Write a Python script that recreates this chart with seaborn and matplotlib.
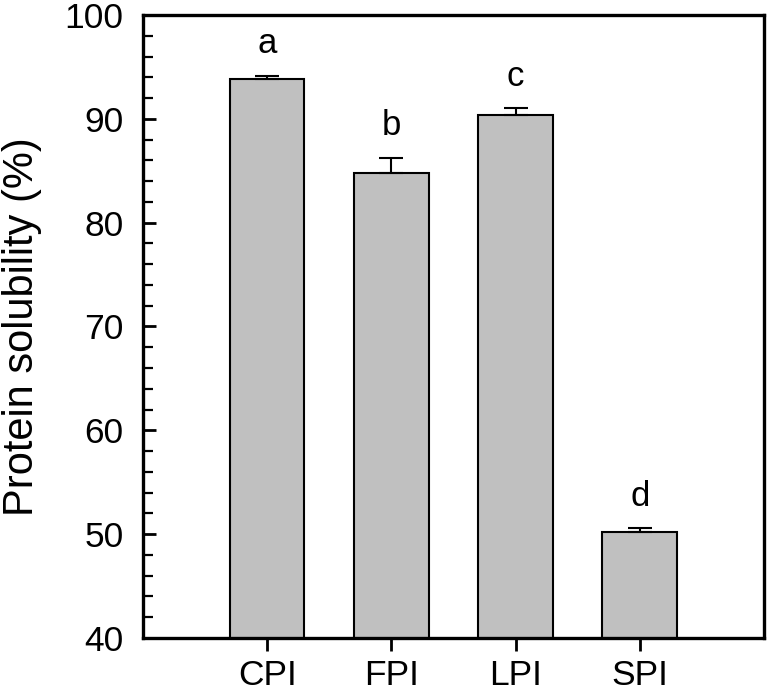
import matplotlib
matplotlib.use("Agg")
import matplotlib.pyplot as plt
import seaborn as sns
import pandas as pd
from matplotlib.ticker import MultipleLocator

# dados
isolates = ["CPI", "FPI", "LPI", "SPI"]
solubility = [93.8, 84.8, 90.4, 50.2]
sd = [0.3, 1.4, 0.6, 0.35]
letters = ["a", "b", "c", "d"]

sns.set_style("ticks", {"axes.edgecolor": "black", "text.color": "black",
                        "axes.labelcolor": "black", "xtick.color": "black",
                        "ytick.color": "black"})
plt.rcParams["font.family"] = ["Liberation Sans", "DejaVu Sans"]

df = pd.DataFrame({"Isolate": isolates, "Solubility": solubility})

fig = plt.figure(figsize=(7.67, 6.97), dpi=100)
ax = fig.add_axes([0.1864, 0.0847, 0.8096, 0.8938])

sns.barplot(data=df, x="Isolate", y="Solubility", color="#C0C0C0",
            width=0.6, edgecolor="black", linewidth=1.5, errorbar=None,
            saturation=1, ax=ax)

xpos = range(len(isolates))
ax.errorbar(xpos, solubility, yerr=[[0] * len(sd), sd], fmt="none",
            ecolor="black", elinewidth=1.5, capsize=8.5, capthick=1.5)

for x, m, e, lab in zip(xpos, solubility, sd, letters):
    ax.text(x, m + e + 2.2, lab, ha="center", va="baseline", fontsize=25,
            color="black")

ax.set_xlim(-1, 4)
ax.set_ylim(40, 100)
ax.yaxis.set_major_locator(MultipleLocator(10))
ax.yaxis.set_minor_locator(MultipleLocator(2))
ax.set_xlabel("")
ax.set_ylabel("Protein solubility (%)", fontsize=30, labelpad=16,
              color="black")

for s in ax.spines.values():
    s.set_linewidth(2.4)
    s.set_color("black")
    s.set_visible(True)

ax.tick_params(axis="y", which="major", direction="in", length=9, width=2,
               labelsize=25.5, pad=14, colors="black")
ax.tick_params(axis="y", which="minor", direction="in", length=7, width=1.6,
               colors="black")
ax.tick_params(axis="x", which="major", direction="out", length=9, width=2,
               labelsize=25.5, pad=6, colors="black")

fig.savefig("out.png", dpi=100)
plt.close(fig)
